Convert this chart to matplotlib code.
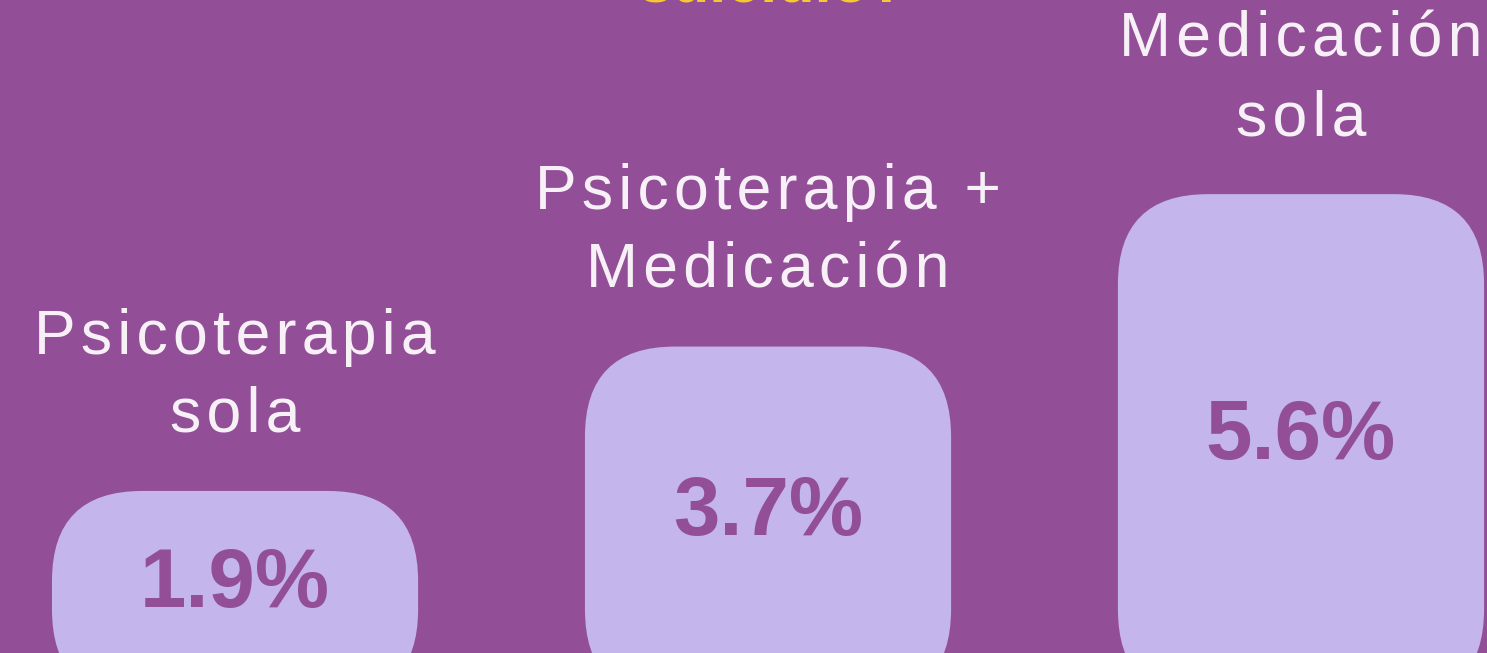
import numpy as np
import matplotlib.pyplot as plt
from matplotlib.patches import FancyBboxPatch

categories = ["Psicoterapia\nsola", "Psicoterapia +\nMedicación", "Medicación\nsola"]
values = [1.9, 3.7, 5.6]
value_labels = ["1.9%", "3.7%", "5.6%"]
title = "suicidio?"

BG = "#924f98"
BAR = "#c4b5ec"
VAL = "#924f98"
LBL = "#f7f1f7"
YEL = "#f7c832"

W, H = 1487, 653
fig = plt.figure(figsize=(W / 100, H / 100), dpi=100)
fig.patch.set_facecolor(BG)
ax = fig.add_axes([0, 0, 1, 1])
ax.set_facecolor(BG)
ax.axis('off')
ax.set_xlim(-0.441, 2.349)
ax.set_ylim(-0.12, 8.02)

xpp = (2.349 + 0.441) / W      # x units per pixel
ypp = (8.02 + 0.12) / H        # y units per pixel
asp = ypp / xpp
base = -0.7                    # bars run off the bottom edge
width = 0.687
rad = 90 * xpp

def spaced(s):
    return "\n".join("\u200a".join(line) for line in s.split("\n"))

fonts = ['Liberation Sans', 'DejaVu Sans']
x = np.arange(len(values))
for xi, v, lbl, cat in zip(x, values, value_labels, categories):
    bar = FancyBboxPatch((xi - width / 2, base), width, v - base,
                         boxstyle=f"round,pad=0,rounding_size={rad}",
                         mutation_aspect=asp, fc=BAR, ec='none')
    ax.add_patch(bar)
    ax.text(xi, (v - 0.45) / 2, lbl, ha='center', va='center', fontsize=60,
            fontweight='bold', color=VAL, family=fonts)
    ax.annotate(spaced(cat), (xi, v), xytext=(0, 46), textcoords='offset pixels',
                ha='center', va='bottom', fontsize=45, color=LBL,
                family=fonts, linespacing=1.42)

fig.text(773 / W, 651 / H, title, ha='center', va='baseline', fontsize=44,
         fontweight='bold', color=YEL, family=fonts)

fig.savefig("out.png", dpi=100, facecolor=BG)
